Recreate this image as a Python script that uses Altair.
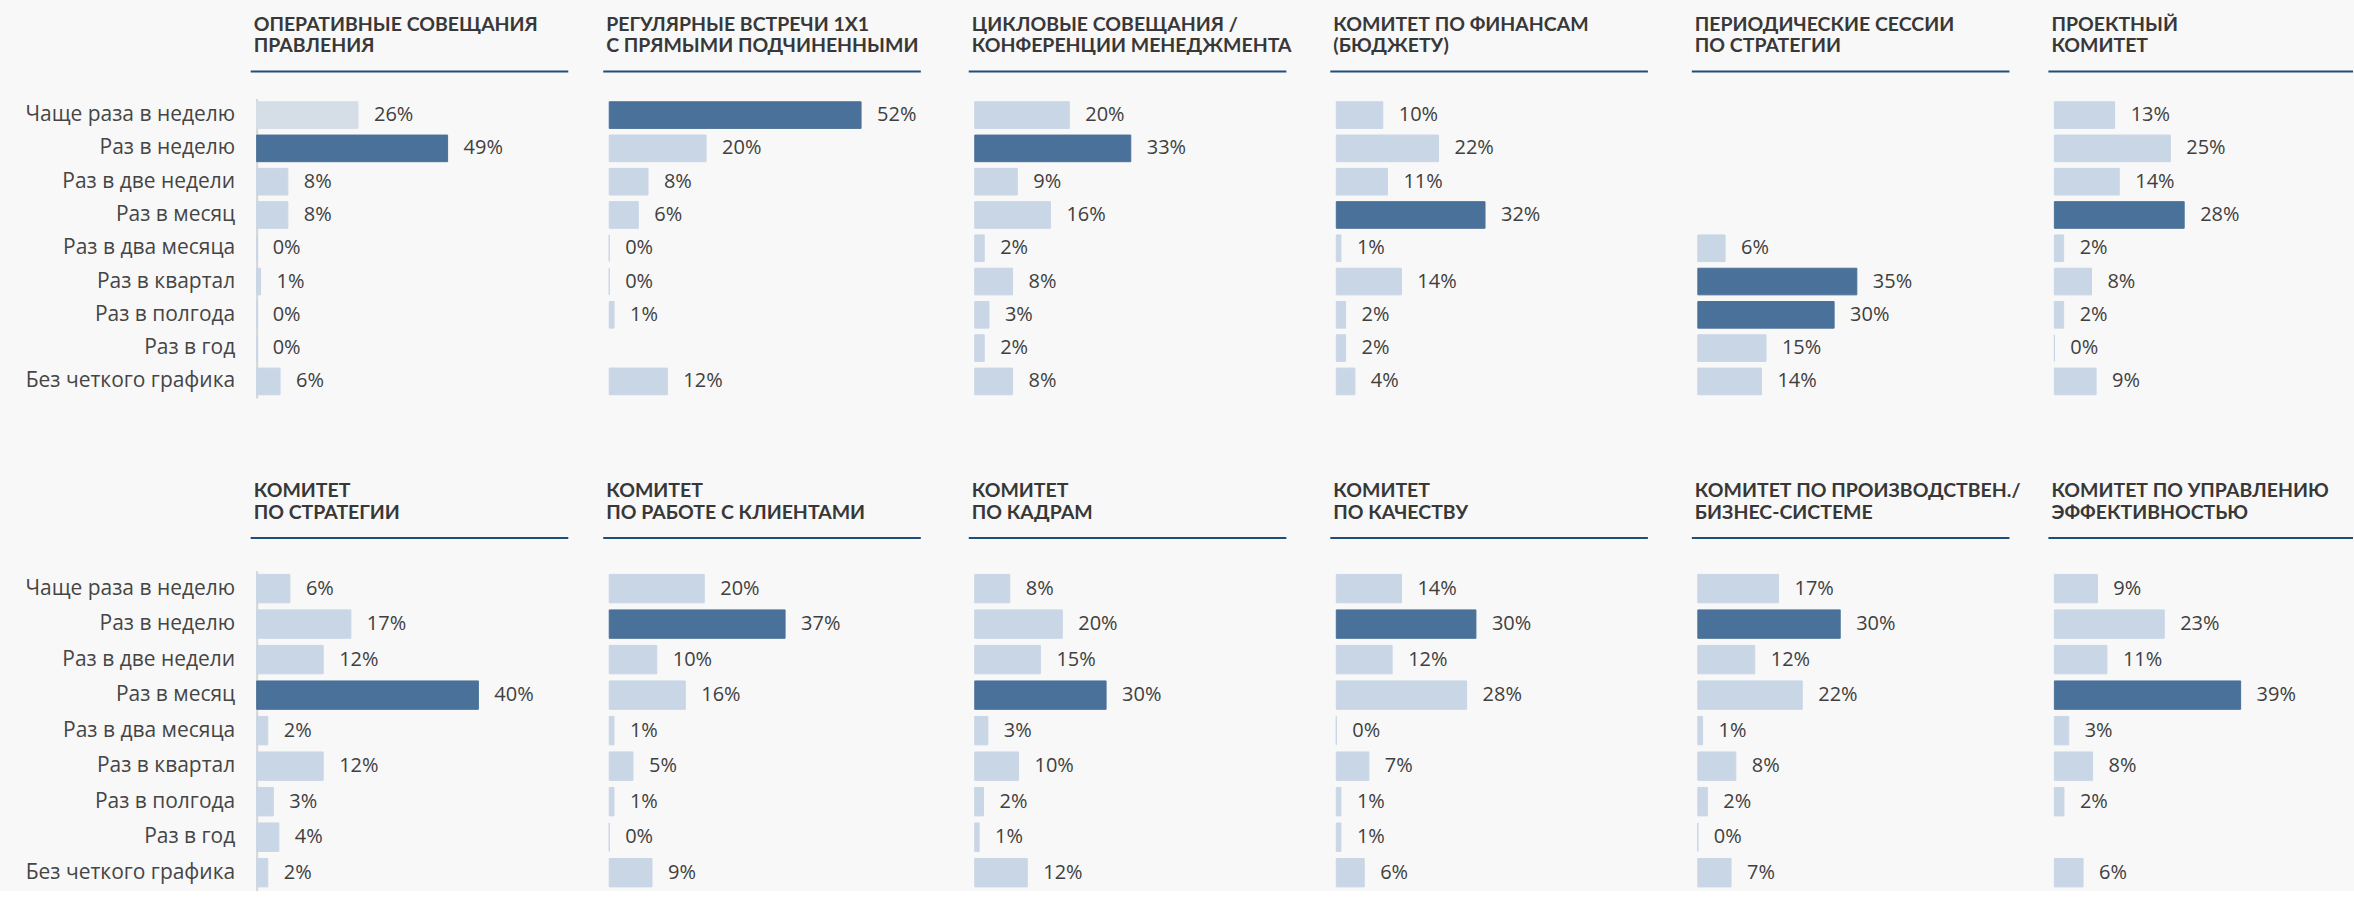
import altair as alt
import pandas as pd

categories = ["Чаще раза в неделю", "Раз в неделю", "Раз в две недели", "Раз в месяц",
              "Раз в два месяца", "Раз в квартал", "Раз в полгода", "Раз в год",
              "Без четкого графика"]

titles_row1 = ["ОПЕРАТИВНЫЕ СОВЕЩАНИЯ\nПРАВЛЕНИЯ",
               "РЕГУЛЯРНЫЕ ВСТРЕЧИ 1X1\nС ПРЯМЫМИ ПОДЧИНЕННЫМИ",
               "ЦИКЛОВЫЕ СОВЕЩАНИЯ /\nКОНФЕРЕНЦИИ МЕНЕДЖМЕНТА",
               "КОМИТЕТ ПО ФИНАНСАМ\n(БЮДЖЕТУ)",
               "ПЕРИОДИЧЕСКИЕ СЕССИИ\nПО СТРАТЕГИИ",
               "ПРОЕКТНЫЙ\nКОМИТЕТ"]
titles_row2 = ["КОМИТЕТ\nПО СТРАТЕГИИ",
               "КОМИТЕТ\nПО РАБОТЕ С КЛИЕНТАМИ",
               "КОМИТЕТ\nПО КАДРАМ",
               "КОМИТЕТ\nПО КАЧЕСТВУ",
               "КОМИТЕТ ПО ПРОИЗВОДСТВЕН./\nБИЗНЕС-СИСТЕМЕ",
               "КОМИТЕТ ПО УПРАВЛЕНИЮ\nЭФФЕКТИВНОСТЬЮ"]

values_row1 = [
    [26, 49, 8, 8, 0, 1, 0, 0, 6],
    [52, 20, 8, 6, 0, 0, 1, None, 12],
    [20, 33, 9, 16, 2, 8, 3, 2, 8],
    [10, 22, 11, 32, 1, 14, 2, 2, 4],
    [None, None, None, None, 6, 35, 30, 15, 14],
    [13, 25, 14, 28, 2, 8, 2, 0, 9],
]
values_row2 = [
    [6, 17, 12, 40, 2, 12, 3, 4, 2],
    [20, 37, 10, 16, 1, 5, 1, 0, 9],
    [8, 20, 15, 30, 3, 10, 2, 1, 12],
    [14, 30, 12, 28, 0, 7, 1, 1, 6],
    [17, 30, 12, 22, 1, 8, 2, 0, 7],
    [9, 23, 11, 39, 3, 8, 2, None, 6],
]
# tone of every bar: "hi" = highlighted, "lo" = regular, "pale" = faded
tones_row1 = [
    ["pale", "hi", "lo", "lo", "lo", "lo", "lo", "lo", "lo"],
    ["hi", "lo", "lo", "lo", "lo", "lo", "lo", "lo", "lo"],
    ["lo", "hi", "lo", "lo", "lo", "lo", "lo", "lo", "lo"],
    ["lo", "lo", "lo", "hi", "lo", "lo", "lo", "lo", "lo"],
    ["lo", "lo", "lo", "lo", "lo", "hi", "hi", "lo", "lo"],
    ["lo", "lo", "lo", "hi", "lo", "lo", "lo", "lo", "lo"],
]
tones_row2 = [
    ["lo", "lo", "lo", "hi", "lo", "lo", "lo", "lo", "lo"],
    ["lo", "hi", "lo", "lo", "lo", "lo", "lo", "lo", "lo"],
    ["lo", "lo", "lo", "hi", "lo", "lo", "lo", "lo", "lo"],
    ["lo", "hi", "lo", "lo", "lo", "lo", "lo", "lo", "lo"],
    ["lo", "hi", "lo", "lo", "lo", "lo", "lo", "lo", "lo"],
    ["lo", "lo", "lo", "hi", "lo", "lo", "lo", "lo", "lo"],
]
# x-domain maxima (each small chart has its own scale)
xmax_row1 = [75.1, 63.1, 63.8, 64.9, 65.3, 61.4]
xmax_row2 = [52.8, 64.3, 68.9, 64.8, 62.5, 59.6]

COL_WIDTHS = [293, 306, 302, 302, 297, 285]
RULE_ENDS = [312, 312, 312, 312, 312, 299]
TITLE_FONT = "Lato"
TEXT_FONT = "Open Sans"
TONE_DOMAIN = ["hi", "lo", "pale"]
TONE_RANGE = ["#4a7199", "#c9d6e6", "#d5dde6"]


def panel(title, vals, tones, xmax, first, height, title_y, rule_y, width, rule_end):
    df = pd.DataFrame({
        "cat": categories,
        "val": vals,
        "tone": tones,
        "label": [None if v is None else f"{v}%" for v in vals],
    })
    yscale = alt.Scale(domain=categories, paddingInner=0.2, paddingOuter=0.1)
    if first:
        yaxis = alt.Axis(title=None, ticks=False, domain=True, domainColor="#d4d4d4",
                         domainWidth=2, labelFont=TEXT_FONT, labelFontSize=21,
                         labelColor="#454545", labelPadding=22, labelLimit=400)
    else:
        yaxis = None
    y = alt.Y("cat:N", scale=yscale, axis=yaxis, sort=categories)
    x = alt.X("val:Q", scale=alt.Scale(domain=[0, xmax], nice=False), axis=None)
    base = alt.Chart(df)
    tone_scale = alt.Scale(domain=TONE_DOMAIN, range=TONE_RANGE)
    bars = base.mark_bar(strokeWidth=1).encode(
        y=y, x=x,
        color=alt.Color("tone:N", scale=tone_scale, legend=None),
        stroke=alt.Color("tone:N", scale=tone_scale, legend=None),
    )
    labels = base.mark_text(align="left", baseline="middle", dx=16, font=TEXT_FONT,
                            fontSize=20, color="#404040").encode(y=y, x=x, text="label:N")
    hdr = alt.Chart(pd.DataFrame({"t": [title]}))
    ttl = hdr.mark_text(align="left", baseline="alphabetic", font=TITLE_FONT, fontSize=19.5,
                        fontWeight="bold", color="#383838", lineBreak="\n", lineHeight=22).encode(
        x=alt.value(-3), y=alt.value(title_y), text="t:N")
    rule = hdr.mark_rule(color="#1f4e7a", strokeWidth=2).encode(
        x=alt.value(-6), x2=alt.value(rule_end), y=alt.value(rule_y))
    return alt.layer(bars, labels, ttl, rule).properties(width=width, height=height)


panels = []
for i in range(6):
    panels.append(panel(titles_row1[i], values_row1[i], tones_row1[i], xmax_row1[i], i == 0,
                        300, -68, -27, COL_WIDTHS[i], RULE_ENDS[i]))
for i in range(6):
    panels.append(panel(titles_row2[i], values_row2[i], tones_row2[i], xmax_row2[i], i == 0,
                        320, -74, -33, COL_WIDTHS[i], RULE_ENDS[i]))

chart = alt.concat(*panels, columns=6, spacing={"row": 173, "column": 60}, bounds="flush").properties(
    background="#f8f8f8",
    padding={"left": 25, "top": 14, "right": 0, "bottom": 0},
).configure_view(stroke=None)

chart.save("out.html", embed_options={"renderer": "svg", "actions": False})
